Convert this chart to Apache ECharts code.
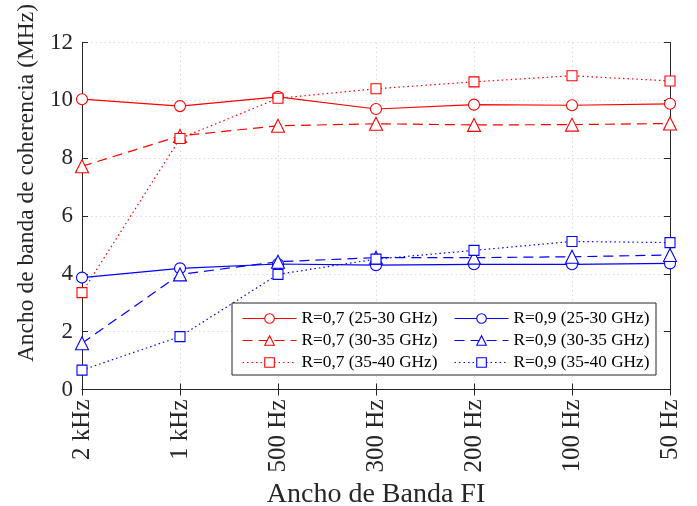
<!DOCTYPE html>
<html>
<head>
<meta charset="utf-8">
<script src="https://cdn.jsdelivr.net/npm/echarts@6/dist/echarts.min.js"></script>
<style>html,body{margin:0;padding:0;background:#fff}#c{width:697px;height:506px}</style>
</head>
<body>
<div id="c"></div>
<script>
const categories = ['2 kHz', '1 kHz', '500 Hz', '300 Hz', '200 Hz', '100 Hz', '50 Hz'];
const r07_25_30 = [10.04, 9.80, 10.12, 9.70, 9.85, 9.83, 9.88];
const r07_30_35 = [7.72, 8.77, 9.12, 9.19, 9.15, 9.16, 9.20];
const r07_35_40 = [3.35, 8.68, 10.07, 10.40, 10.64, 10.85, 10.67];
const r09_25_30 = [3.87, 4.19, 4.34, 4.30, 4.33, 4.33, 4.36];
const r09_30_35 = [1.60, 3.98, 4.42, 4.56, 4.56, 4.59, 4.65];
const r09_35_40 = [0.67, 1.83, 3.98, 4.51, 4.81, 5.12, 5.08];
const seriesNames = ['R=0,7 (25-30 GHz)', 'R=0,7 (30-35 GHz)', 'R=0,7 (35-40 GHz)',
                     'R=0,9 (25-30 GHz)', 'R=0,9 (30-35 GHz)', 'R=0,9 (35-40 GHz)'];
const xTitle = 'Ancho de Banda FI';
const yTitle = 'Ancho de banda de coherencia (MHz)';

const FONT = '"Liberation Serif", "Times New Roman", serif';
const AX = '#262626';
const RED = '#ff0000', BLUE = '#0000ff';

function mk(name, data, color, type, symbol, size) {
  return {
    name: name, type: 'line', data: data, xAxisIndex: 0, yAxisIndex: 0,
    symbol: symbol, symbolSize: size, showSymbol: true,
    itemStyle: { color: '#fff', borderColor: color, borderWidth: 1.1 },
    lineStyle: { color: color, width: 1.2, type: type },
    emphasis: { disabled: true }, animation: false
  };
}
const DASH = [10, 6], DOT = [1.5, 3];

const chart = echarts.init(document.getElementById('c'), null, { renderer: 'canvas' });
const legendCommon = {
  orient: 'vertical', top: 305, itemWidth: 54, itemHeight: 12, itemGap: 5,
  textStyle: { fontFamily: FONT, fontSize: 17.3, color: '#000' },
  lineStyle: { width: 1.1 },
  itemStyle: { borderWidth: 1.1 },
  z: 20, selectedMode: false
};
chart.setOption({
  backgroundColor: '#fff',
  animation: false,
  grid: { left: 82, right: 27, top: 42.5, bottom: 116.5, containLabel: false, outerBoundsMode: 'none' },
  xAxis: [{
    type: 'category', data: categories, boundaryGap: false, position: 'bottom',
    axisLine: { show: true, lineStyle: { color: AX, width: 1 } },
    axisTick: { show: true, inside: true, length: 6, alignWithLabel: true, lineStyle: { color: AX } },
    axisLabel: { rotate: 90, fontFamily: FONT, fontSize: 25, color: '#262626', margin: 10 },
    splitLine: { show: true, lineStyle: { color: '#dcdcdc', type: [1.5, 3], width: 1 } },
    name: xTitle, nameLocation: 'middle', nameGap: 83,
    nameTextStyle: { fontFamily: FONT, fontSize: 28, color: '#262626' }
  }, {
    type: 'category', data: categories, boundaryGap: false, position: 'top',
    axisLine: { show: true, lineStyle: { color: AX, width: 1 } },
    axisTick: { show: true, inside: true, length: 6, lineStyle: { color: AX } },
    axisLabel: { show: false }, splitLine: { show: false }
  }],
  yAxis: [{
    type: 'value', min: 0, max: 12, interval: 2, position: 'left',
    axisLine: { show: true, lineStyle: { color: AX, width: 1 } },
    axisTick: { show: true, inside: true, length: 6, lineStyle: { color: AX } },
    axisLabel: { fontFamily: FONT, fontSize: 23, color: '#262626', margin: 9 },
    splitLine: { show: true, lineStyle: { color: '#dcdcdc', type: [1.5, 3], width: 1 } },
    name: yTitle, nameLocation: 'middle', nameGap: 42,
    nameTextStyle: { fontFamily: FONT, fontSize: 23.5, color: '#262626', padding: [0, 0, 0, 66] }
  }, {
    type: 'value', min: 0, max: 12, interval: 2, position: 'right',
    axisLine: { show: true, lineStyle: { color: AX, width: 1 } },
    axisTick: { show: true, inside: true, length: 6, lineStyle: { color: AX } },
    axisLabel: { show: false }, splitLine: { show: false }
  }],
  legend: [
    Object.assign({ left: 237, data: seriesNames.slice(0, 3) }, legendCommon),
    Object.assign({ left: 449, data: seriesNames.slice(3, 6) }, legendCommon)
  ],
  graphic: [{
    type: 'rect', z: 10, silent: true,
    shape: { x: 232, y: 303, width: 424, height: 72 },
    style: { fill: '#fff', stroke: AX, lineWidth: 1 }
  }],
  series: [
    mk(seriesNames[0], r07_25_30, RED, 'solid', 'circle', 11),
    mk(seriesNames[1], r07_30_35, RED, DASH, 'triangle', 13),
    mk(seriesNames[2], r07_35_40, RED, DOT, 'rect', 10),
    mk(seriesNames[3], r09_25_30, BLUE, 'solid', 'circle', 11),
    mk(seriesNames[4], r09_30_35, BLUE, DASH, 'triangle', 13),
    mk(seriesNames[5], r09_35_40, BLUE, DOT, 'rect', 10)
  ]
});
</script>
</body>
</html>
